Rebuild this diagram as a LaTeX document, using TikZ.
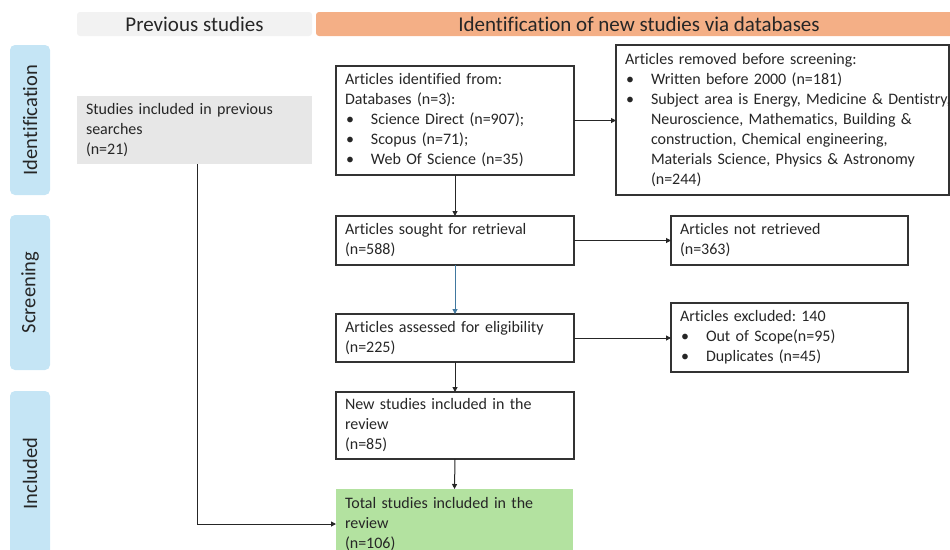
\documentclass[tikz,border=0pt]{standalone}
\usepackage{fontspec}
\setmainfont{Carlito}[Ligatures=NoCommon]
\usetikzlibrary{arrows.meta,calc}

\definecolor{sidebar}{HTML}{C5E5F5}
\definecolor{hdrgray}{HTML}{F2F2F2}
\definecolor{hdrorange}{HTML}{F4AF86}
\definecolor{prevgray}{HTML}{E7E7E7}
\definecolor{totalgreen}{HTML}{B3E2A0}
\definecolor{linkblue}{HTML}{41789F}
\definecolor{ink}{HTML}{262626}

% bullet with hanging indent, and continuation indent
\newcommand{\bul}{\makebox[26pt][l]{\hspace{1pt}\textbullet}}
\newcommand{\cont}{\hspace*{26pt}}

\begin{document}
\frenchspacing
\begin{tikzpicture}[x=1pt,y=-1pt,
  every node/.style={text=ink, font=\fontsize{16}{20}\selectfont},
  box/.style={draw=black!80, line width=1.2pt, anchor=north west, align=left,
    inner xsep=9pt, inner ysep=0pt, outer sep=0pt},
  plain/.style={anchor=north west, align=left, inner xsep=9pt, inner ysep=0pt, outer sep=0pt},
  hdr/.style={anchor=north west, rounded corners=3pt, inner sep=0pt, outer sep=0pt,
    font=\fontsize{21}{24}\selectfont, minimum height=24},
  side/.style={fill=sidebar, rounded corners=5pt, rotate=90, minimum height=40,
    inner sep=0pt, font=\fontsize{20.5}{22}\selectfont},
  arr/.style={draw=black!85, line width=1pt, -{Triangle[length=5pt,width=5pt]}},
]
\useasboundingbox (0,0) rectangle (950,549);

% column headers
\node[hdr, fill=hdrgray, minimum width=235] (hprev) at (77,12) {Previous studies};
\node[hdr, fill=hdrorange, minimum width=646] (hnew) at (316,12) {Identification of new studies via databases};

% phase labels
\node[side, minimum width=150] (sid) at (30,120) {Identification};
\node[side, minimum width=155] (sscr) at (30,292.5) {Screening};
\node[side, minimum width=165] (sinc) at (30,473.5) {Included};

% previous studies
\node[plain, fill=prevgray, minimum width=235, minimum height=68, text width=217] (prev) at (77,96)
  {Studies included in previous\\searches\\(n=21)};

% identification
\node[box, minimum width=238, minimum height=109, text width=220] (b1) at (336,66)
  {Articles identified from:\\Databases (n=3):\\
   \bul Science Direct (n=907);\\
   \bul Scopus (n=71);\\
   \bul Web Of Science (n=35)};
\node[box, minimum width=333, minimum height=150, text width=315] (b2) at (616,45)
  {Articles removed before screening:\\
   \bul Written before 2000 (n=181)\\
   \mbox{\bul Subject area is Energy, Medicine \& Dentistry,}\\
   \cont Neuroscience, Mathematics, Building \&\\
   \cont construction, Chemical engineering,\\
   \cont Materials Science, Physics \& Astronomy\\
   \cont (n=244)};

% screening
\node[box, minimum width=238, minimum height=49, text width=220] (b3) at (336,216)
  {Articles sought for retrieval\\(n=588)};
\node[box, minimum width=237, minimum height=49, text width=219] (b4) at (671,216)
  {Articles not retrieved\\(n=363)};
\node[box, minimum width=238, minimum height=48, text width=220] (b5) at (336,314)
  {Articles assessed for eligibility\\(n=225)};
\node[box, minimum width=237, minimum height=69, text width=219] (b6) at (671,303)
  {Articles excluded: 140\\
   \bul Out of Scope(n=95)\\
   \bul Duplicates (n=45)};

% included
\node[box, minimum width=238, minimum height=67, text width=220] (b7) at (336,392)
  {New studies included in the\\review\\(n=85)};
\node[plain, fill=totalgreen, minimum width=237, minimum height=70, text width=219] (b8) at (336,489)
  {Total studies included in the\\review\\(n=106)};

% connectors
\draw[arr] (b1.east) -- (b1.east -| b2.west);
\draw[arr] (b1.south) -- (b3.north);
\draw[arr] (b3.east) -- (b4.west);
\draw[arr, draw=linkblue] (b3.south) -- (b5.north);
\draw[arr] (b5.east) -- (b5.east -| b6.west);
\draw[arr] (b5.south) -- (b7.north);
\draw[arr] (b7.south) -- (b8.north);
\draw[arr] ([xshift=2.5pt]prev.south) |- (b8.west);
\end{tikzpicture}
\end{document}
